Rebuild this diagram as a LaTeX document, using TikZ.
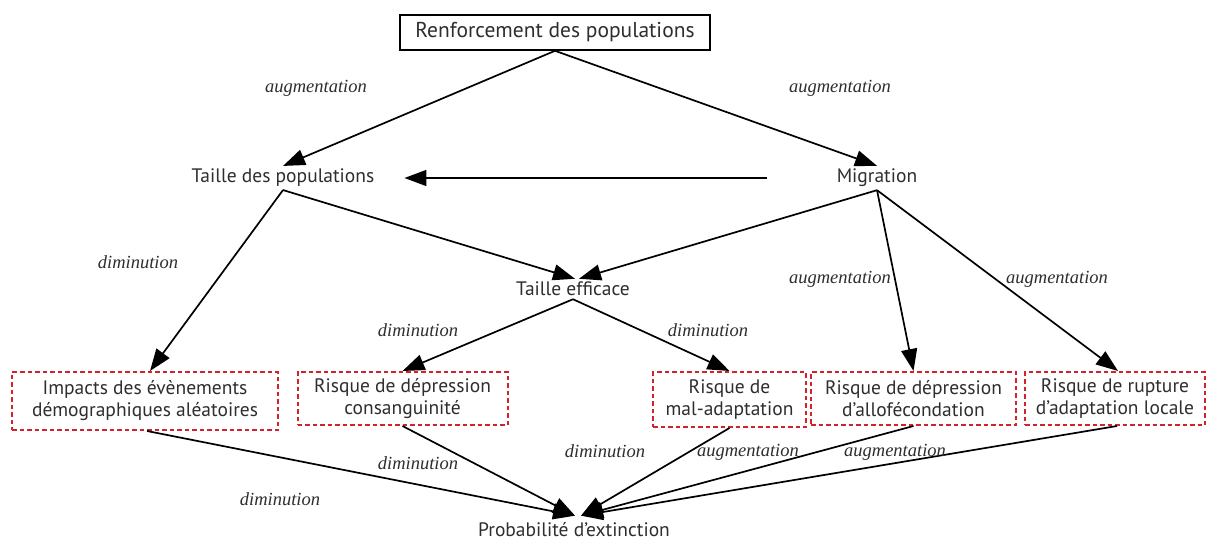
\documentclass[tikz,border=0pt]{standalone}
\usepackage{fontspec}
\setmainfont{PT Sans}
\newfontfamily\labfont{Liberation Serif}
\usetikzlibrary{arrows.meta}
\definecolor{txt}{HTML}{2E2E2E}
\definecolor{dred}{HTML}{D0232E}
\tikzset{
  x=1pt,y=-1pt,
  lbl/.style={font=\fontsize{19.5}{22}\selectfont, text=txt, inner sep=3pt},
  dbox/.style={lbl, draw=dred, line width=2pt, dash pattern=on 4.5pt off 3pt, align=center},
  tbox/.style={lbl, font=\fontsize{21.5}{24}\selectfont, draw=black, line width=1.6pt},
  arr/.style={line width=1.7pt, -{Triangle[length=22pt,width=16pt]}},
  rel/.style={font=\labfont\itshape\fontsize{18.5}{21}\selectfont, text=txt, inner sep=1pt}
}
\begin{document}
\begin{tikzpicture}
\useasboundingbox (0,0) rectangle (1209,540);
\fill[white] (0,0) rectangle (1209,540);
% nodes
\node[tbox, minimum width=310pt, minimum height=35pt] (top) at (555,32.5) {Renforcement des populations};
\node[lbl] (tp) at (283,178) {Taille des populations};
\node[lbl] (mig) at (877,178) {Migration};
\node[lbl] (te) at (573,289) {Taille efficace};
\node[dbox, minimum width=266pt, minimum height=58pt] (imp) at (145,401) {Impacts des évènements\\démographiques aléatoires};
\node[dbox, minimum width=210pt, minimum height=53pt] (cons) at (402.5,398.5) {Risque de dépression\\consanguinité};
\node[dbox, minimum width=153pt, minimum height=55pt] (mal) at (729.5,399.5) {Risque de\\mal-adaptation};
\node[dbox, minimum width=205pt, minimum height=53pt] (allo) at (913.5,398.5) {Risque de dépression\\d’allofécondation};
\node[dbox, minimum width=180pt, minimum height=53pt] (rup) at (1115,398.5) {Risque de rupture\\d’adaptation locale};
\node[lbl, inner sep=1pt] (pe) at (574,530) {Probabilité d’extinction};
% connectors
\draw[arr] (top.south) -- (tp.north);
\draw[arr] (top.south) -- (mig.north);
\draw[arr, shorten <=67pt, shorten >=27pt] (mig.west) -- (tp.east);
\draw[arr] (tp.south) -- ([xshift=2pt]te.north);
\draw[arr] (tp.south) -- ([xshift=5pt]imp.north);
\draw[arr] (mig.south) -- ([xshift=6pt]te.north);
\draw[arr] (mig.south) -- (allo.north);
\draw[arr] (mig.south) -- ([xshift=3pt]rup.north);
\draw[arr] (te.south) -- (cons.north);
\draw[arr] (te.south) -- (mal.north);
\draw[arr] ([xshift=2pt]imp.south) -- ([xshift=1pt,yshift=6pt]pe.north);
\draw[arr] (cons.south) -- ([xshift=1pt,yshift=6pt]pe.north);
\draw[arr] (mal.south) -- ([xshift=7pt,yshift=6pt]pe.north);
\draw[arr] (allo.south) -- ([xshift=7pt,yshift=6pt]pe.north);
\draw[arr] ([xshift=2pt]rup.south) -- ([xshift=7pt,yshift=6pt]pe.north);
% relation labels
\node[rel] (l1) at (316,88) {augmentation};
\node[rel] (l2) at (840,88) {augmentation};
\node[rel] (l3) at (138,262) {diminution};
\node[rel] (l4) at (840,279) {augmentation};
\node[rel] (l5) at (1057,279) {augmentation};
\node[rel] (l6) at (418,330) {diminution};
\node[rel] (l7) at (708,330) {diminution};
\node[rel] (l8) at (418,463) {diminution};
\node[rel] (l9) at (605,451) {diminution};
\node[rel] (l10) at (748,452) {augmentation};
\node[rel] (l11) at (895,452) {augmentation};
\node[rel] (l12) at (280,499) {diminution};
\end{tikzpicture}
\end{document}
